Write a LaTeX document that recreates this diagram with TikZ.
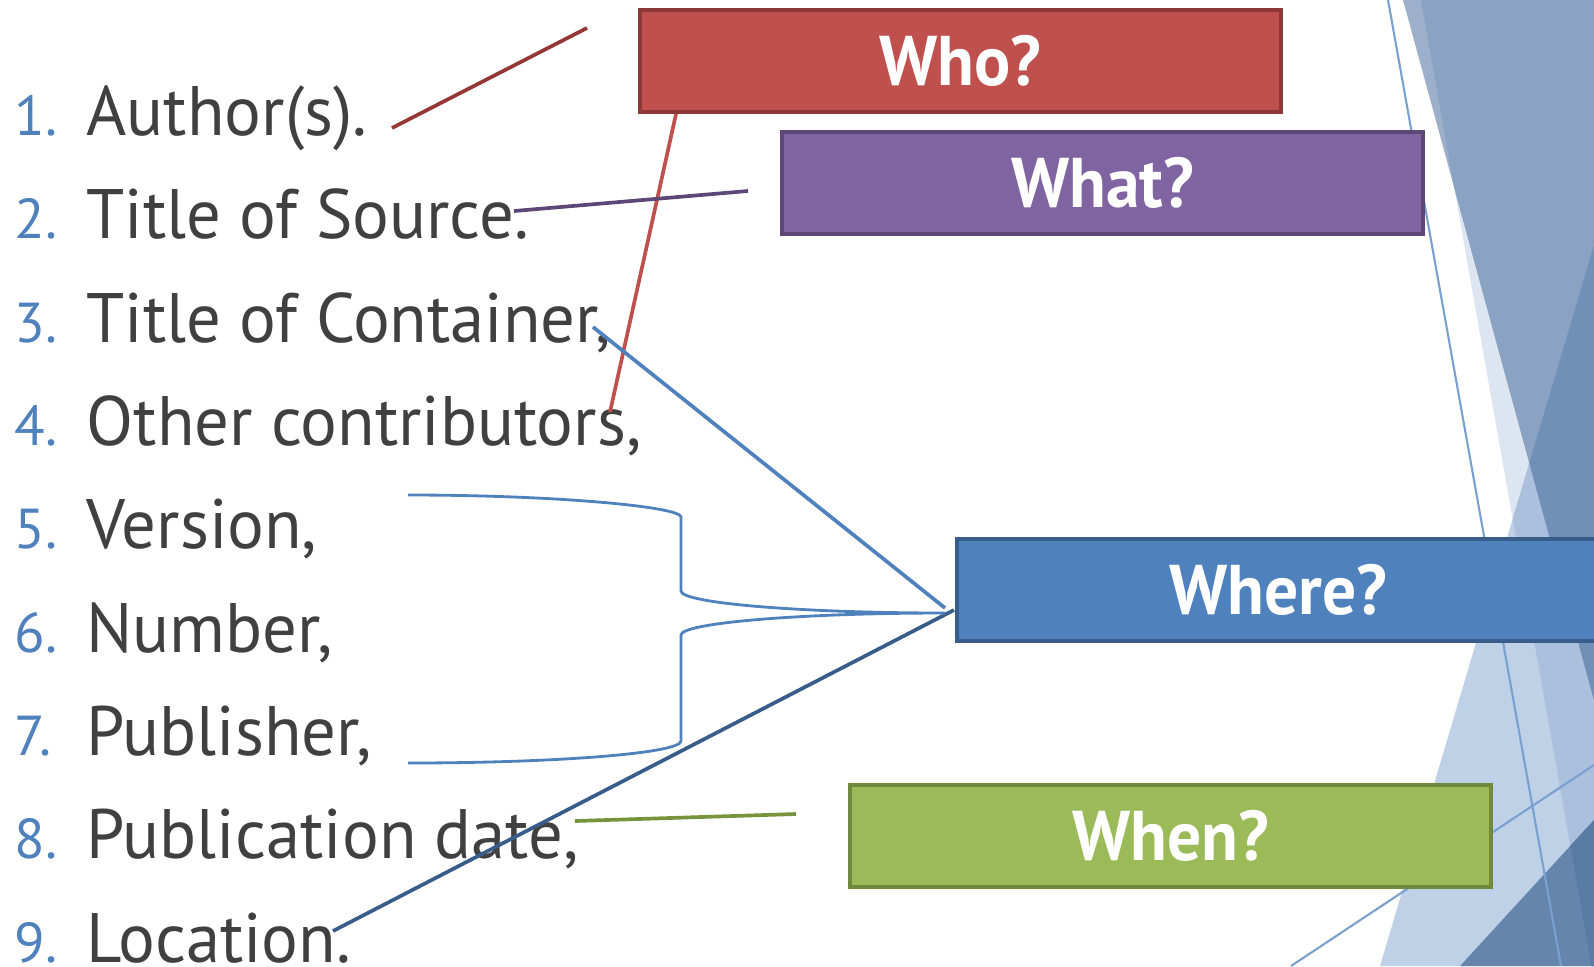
\documentclass[tikz,border=0pt]{standalone}
\usepackage{fontspec}
\setmainfont{PT Sans}[FakeStretch=0.982]
\newfontfamily\numfont{PT Sans}
\newfontfamily\boxfont{PT Sans}[FakeStretch=0.96]
\definecolor{txtgray}{HTML}{404040}
\definecolor{numblue}{HTML}{4F81BD}
\definecolor{redfill}{HTML}{C0504D}
\definecolor{redline}{HTML}{8C3836}
\definecolor{darkred}{HTML}{953735}
\definecolor{purfill}{HTML}{8064A2}
\definecolor{purline}{HTML}{5C4776}
\definecolor{bluefill}{HTML}{4F81BD}
\definecolor{blueline}{HTML}{385D8A}
\definecolor{grnfill}{HTML}{9BBB59}
\definecolor{grnline}{HTML}{71893F}
\definecolor{grnconn}{HTML}{77933C}
\definecolor{bgD}{HTML}{9DB0CB}
\definecolor{bgC}{HTML}{DCE5F0}
\definecolor{bgB}{HTML}{BFD1E7}
\definecolor{bgBC}{HTML}{ABC0DD}
\definecolor{bgA}{HTML}{8AA3C2}
\definecolor{bgAB}{HTML}{7090B8}
\definecolor{bgF}{HTML}{6585AD}
\definecolor{bgFC}{HTML}{5A7BA6}
\definecolor{thinline}{HTML}{7AA0D0}
\begin{document}
\begin{tikzpicture}[x=0.01cm,y=-0.01cm,
  item/.style={anchor=base west, text=txtgray, font=\fontsize{19.9pt}{24pt}\selectfont, inner sep=0pt},
  num/.style={anchor=base west, text=numblue, font=\numfont\fontsize{16pt}{20pt}\selectfont, inner sep=0pt},
  qbox/.style n args={2}{fill=#1, draw=#2, line width=1.1pt, minimum width=6.41cm, minimum height=1.02cm, text=white, font=\boxfont\bfseries\fontsize{20pt}{24pt}\selectfont, inner sep=0pt},
  conn/.style={line width=1.05pt},
  bracestyle/.style={draw=bluefill, line width=0.8pt},
  thin/.style={draw=thinline, line width=0.6pt}]
\useasboundingbox (0,0) rectangle (1594,966);
% background facets
\fill[bgC] (1421,0) -- (1594,0) -- (1594,980) -- cycle;
\fill[bgB] (1594,245) -- (1594,966) -- (1380,966) -- cycle;
\begin{scope}
  \clip (1421,0) -- (1594,0) -- (1594,980) -- cycle;
  \fill[bgBC] (1594,245) -- (1594,966) -- (1380,966) -- cycle;
\end{scope}
\fill[bgD] (1403,0) -- (1594,0) -- (1594,700) -- cycle;
\begin{scope}
  \clip (1421,0) -- (1594,0) -- (1594,980) -- cycle;
  \fill[bgA] (1403,0) -- (1594,0) -- (1594,700) -- cycle;
\end{scope}
\begin{scope}
  \clip (1403,0) -- (1594,0) -- (1594,700) -- cycle;
  \fill[bgAB] (1594,245) -- (1594,966) -- (1380,966) -- cycle;
\end{scope}
\fill[bgF] (1460,966) -- (1594,820) -- (1594,966) -- cycle;
\begin{scope}
  \clip (1421,0) -- (1594,0) -- (1594,980) -- cycle;
  \fill[bgFC] (1460,966) -- (1594,820) -- (1594,966) -- cycle;
\end{scope}
\coordinate (l1a) at (1388,0);
\coordinate (l1b) at (1561,966);
\coordinate (l2a) at (1291,966);
\coordinate (l2b) at (1594,765);
\draw[thin] (l1a) -- (l1b);
\draw[thin] (l2a) -- (l2b);
% list
\node[num] (n1) at (14,135) {1.};
\node[num] (n2) at (14,238) {2.};
\node[num] (n3) at (14,342) {3.};
\node[num] (n4) at (14,445) {4.};
\node[num] (n5) at (14,548) {5.};
\node[num] (n6) at (14,652) {6.};
\node[num] (n7) at (14,755) {7.};
\node[num] (n8) at (14,858) {8.};
\node[num] (n9) at (14,962) {9.};
\node[item] (t1) at (86,135) {Author(s).};
\node[item] (t2) at (86,238) {Title of Source.};
\node[item] (t3) at (86,342) {Title of Container,};
\node[item] (t4) at (86,445) {Other contributors,};
\node[item] (t5) at (86,548) {Version,};
\node[item] (t6) at (86,652) {Number,};
\node[item] (t7) at (86,755) {Publisher,};
\node[item] (t8) at (86,858) {Publication date,};
\node[item] (t9) at (86,962) {Location.};
% boxes
\node[qbox={redfill}{redline}] (who) at (960.5,61) {Who?};
\node[qbox={purfill}{purline}] (what) at (1102.5,183) {What?};
\node[qbox={bluefill}{blueline}] (where) at (1278,590) {Where?};
\node[qbox={grnfill}{grnline}] (when) at (1170.5,836) {When?};
% connector end points
\coordinate (a1) at (392,128);
\coordinate (a2) at (587,28);
\coordinate (w1) at (676,114);
\coordinate (w2) at (610,412);
\coordinate (s1) at (514,211);
\coordinate (s2) at (748,191);
\coordinate (c1) at (593,327);
\coordinate (c2) at (945,608);
\coordinate (l1) at (333,931);
\coordinate (l2) at (954,610);
\coordinate (d1) at (575,821);
\coordinate (d2) at (796,814);
\coordinate (btop) at (408,495);
\coordinate (bbot) at (408,763);
\coordinate (btip) at (945,613);
% connectors
\draw[conn, darkred] (a1) -- (a2);
\draw[conn, redfill] (w1) -- (w2);
\draw[conn, purline] (s1) -- (s2);
\draw[conn, bluefill] (c1) -- (c2);
\draw[conn, blueline] (l1) -- (l2);
\draw[conn, grnconn] (d1) -- (d2);
\draw[bracestyle] (btop) .. controls (559,495) and (681,507) .. (681,517)
  -- (681,591) .. controls (681,603) and (799,613) .. (btip)
  .. controls (799,613) and (681,623) .. (681,635)
  -- (681,741) .. controls (681,753) and (559,763) .. (bbot);
\end{tikzpicture}
\end{document}
